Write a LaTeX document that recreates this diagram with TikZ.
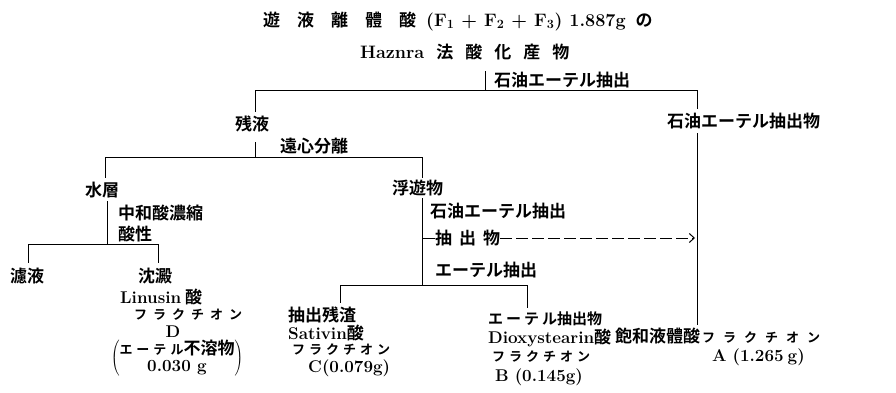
\documentclass[tikz,border=0pt]{standalone}
\usepackage{fontspec}
\newfontfamily\jp{Noto Sans CJK JP}[BoldFont={* Bold}]
\usetikzlibrary{arrows.meta}
\newcommand{\J}[1]{{\jp\bfseries\fontsize{17}{17}\selectfont #1}}
\newcommand{\Js}[1]{{\jp\bfseries\fontsize{13}{13}\selectfont #1}}
\tikzset{
  jl/.style={anchor=west,inner sep=0pt,font=\jp\bfseries\fontsize{17}{17}\selectfont},
  jk/.style={anchor=west,inner sep=0pt,font=\jp\bfseries\fontsize{13}{13}\selectfont},
  lt/.style={anchor=west,inner sep=0pt,font=\bfseries\fontsize{17}{17}\selectfont},
  ltb/.style={anchor=west,inner sep=0pt,font=\bfseries\fontsize{18}{17}\selectfont},
  ctr/.style={anchor=center,inner sep=0pt,font=\bfseries\fontsize{17}{17}\selectfont},
  ln/.style={line width=0.8pt},
  dsh/.style={line width=0.8pt,dash pattern=on 12pt off 4pt,-{Straight Barb[length=5pt,width=9pt,line width=1pt]}},
}
\begin{document}
\begin{tikzpicture}[x=1pt,y=-1pt]
\useasboundingbox (0,0) rectangle (896,392);
% title
\node[ltb] (t1) at (263,21) {\J{遊\hspace{17pt}液\hspace{17pt}離\hspace{17pt}體\hspace{17pt}酸}\hspace{10pt}(F\textsubscript{1}\hspace{7pt}+\hspace{7pt}F\textsubscript{2}\hspace{7pt}+\hspace{7pt}F\textsubscript{3})\hspace{7pt}1.887g\hspace{10pt}\J{の}};
\node[ltb] (t2) at (360,52) {Haznra\hspace{12pt}\J{法\hspace{12pt}酸\hspace{12pt}化\hspace{12pt}産\hspace{12pt}物}};
% level 1
\coordinate (c0) at (485,71);
\coordinate (c0b) at (485,90);
\node[jl] (pe1) at (494,80) {石油エーテル抽出};
\coordinate (h1l) at (255,90);
\coordinate (h1r) at (697,90);
\node[jl] (zan) at (235,124) {残液};
\node[jl] (pex) at (667,121) {石油エーテル抽出物};
\coordinate (zt) at (255,112);
\coordinate (pxt) at (697,109);
\draw[ln] (c0) -- (c0b);
\draw[ln] (h1l) -- (h1r);
\draw[ln] (h1l) -- (zt);
\draw[ln] (h1r) -- (pxt);
% centrifuge
\coordinate (zb) at (255,142);
\coordinate (h2l) at (105,157);
\coordinate (h2r) at (422,157);
\coordinate (h2m) at (255,157);
\node[jl] (cen) at (280,146) {遠心分離};
\draw[ln] (zb) -- (h2m);
\draw[ln] (h2l) -- (h2r);
\node[jl] (sui) at (85,190) {水層};
\node[jl] (fu) at (392,188) {浮遊物};
\coordinate (suit) at (105,178);
\coordinate (fut) at (422,178);
\draw[ln] (h2l) -- (suit);
\draw[ln] (h2r) -- (fut);
% water layer branch
\coordinate (sb) at (107,201);
\coordinate (h3m) at (107,244);
\node[jl] (neu) at (118,213) {中和酸濃縮};
\node[jl] (acid) at (118,234) {酸性};
\draw[ln] (sb) -- (h3m);
\coordinate (h3l) at (28,244);
\coordinate (h3r) at (158,244);
\draw[ln] (h3l) -- (h3r);
\coordinate (rot) at (28,263);
\coordinate (cht) at (158,263);
\draw[ln] (h3l) -- (rot);
\draw[ln] (h3r) -- (cht);
\node[jl] (ro) at (10,276) {濾液};
\node[jl] (chin) at (138,276) {沈澱};
\node[lt] (lin) at (120,297) {Linusin\hspace{4pt}\J{酸}};
\node[jk] (frd) at (134,315) {フ\hspace{6pt}ラ\hspace{6pt}ク\hspace{6pt}チ\hspace{6pt}オ\hspace{6pt}ン};
\node[ctr] (dd) at (173,332) {D};
\node[ctr] (dnote) at (177,358) {$\left(\begin{tabular}{@{}c@{}}\Js{エ\hspace{4pt}ー\hspace{4pt}テ\hspace{4pt}ル}\J{不溶物}\\0.030 g\end{tabular}\right)$};
% floating branch
\coordinate (fb) at (422,198);
\coordinate (h4m) at (422,285);
\draw[ln] (fb) -- (h4m);
\node[jl] (pe2) at (430,211) {石油エーテル抽出};
\coordinate (a0) at (422,238);
\node[jl] (ext) at (435,238) {抽\hspace{7pt}出\hspace{7pt}物};
\coordinate (a1) at (695,238);
\draw[ln] (a0) -- (ext.west);
\draw[dsh] (ext.east) -- (a1);
\node[jl] (ee) at (435,270) {エーテル抽出};
\coordinate (h4l) at (340,285);
\coordinate (h4r) at (527,285);
\draw[ln] (h4l) -- (h4r);
\coordinate (rest) at (340,303);
\coordinate (eext) at (527,308);
\draw[ln] (h4l) -- (rest);
\draw[ln] (h4r) -- (eext);
\node[jl] (res) at (288,315) {抽出残渣};
\node[lt] (sat) at (288,333) {Sativin\J{酸}};
\node[jk] (frc) at (292,350) {フ\hspace{4pt}ラ\hspace{4pt}ク\hspace{4pt}チ\hspace{4pt}オ\hspace{4pt}ン};
\node[lt] (cc) at (308,368) {C(0.079g)};
\node[anchor=west,inner sep=0pt,font=\jp\bfseries\fontsize{15}{15}\selectfont] (eex) at (488,319) {エ\hspace{3pt}ー\hspace{3pt}テ\hspace{3pt}ル抽出物};
\node[lt] (dio) at (488,338) {Dioxystearin\J{酸}};
\node[jk] (frb) at (492,357) {フ\hspace{4pt}ラ\hspace{4pt}ク\hspace{4pt}チ\hspace{4pt}オ\hspace{4pt}ン};
\node[lt] (bb) at (495,377) {B\hspace{6pt}(0.145g)};
% right branch
\coordinate (rt) at (697,133);
\coordinate (rb) at (697,325);
\draw[ln] (rt) -- (rb);
\node[jl] (sat2) at (615,336) {飽和液體酸\Js{\hspace{2pt}フ\hspace{8pt}ラ\hspace{8pt}ク\hspace{8pt}チ\hspace{8pt}オ\hspace{8pt}ン}};
\node[lt] (aa) at (712,357) {A\hspace{6pt}(1.265\hspace{4pt}g)};
\end{tikzpicture}
\end{document}
